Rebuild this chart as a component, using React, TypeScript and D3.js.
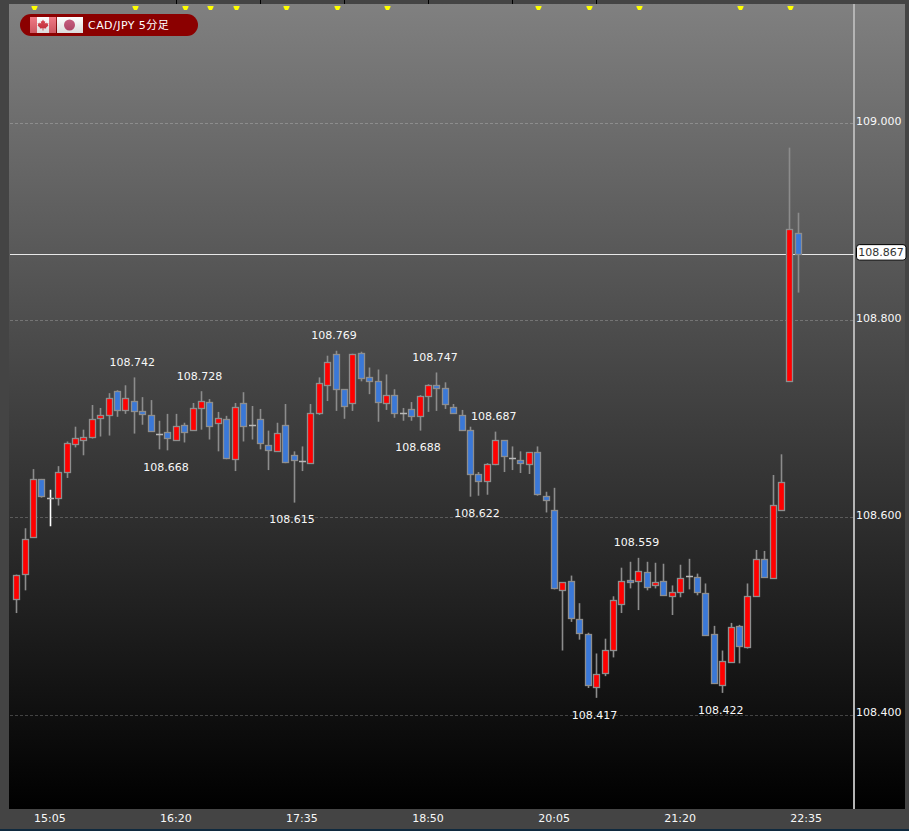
import * as d3 from 'd3';
import { useEffect, useRef } from 'react';

const pair = 'CAD/JPY 5分足';

// 5 minute candles, first one is 14:45
const opens = [
  108.517, 108.543, 108.58, 108.639, 108.62, 108.62, 108.646, 108.674, 108.678, 108.682,
  108.701, 108.704, 108.728, 108.709, 108.718, 108.708, 108.704, 108.685, 108.687, 108.679,
  108.694, 108.689, 108.711, 108.717, 108.696, 108.7, 108.659, 108.716, 108.694, 108.7,
  108.673, 108.667, 108.694, 108.663, 108.657, 108.655, 108.706, 108.734, 108.766, 108.73,
  108.716, 108.767, 108.742, 108.738, 108.716, 108.724, 108.706, 108.71, 108.703, 108.723,
  108.734, 108.731, 108.712, 108.704, 108.689, 108.644, 108.637, 108.654, 108.678, 108.66,
  108.658, 108.654, 108.666, 108.622, 108.608, 108.526, 108.535, 108.497, 108.482, 108.428,
  108.442, 108.466, 108.512, 108.537, 108.536, 108.545, 108.531, 108.535, 108.52, 108.524,
  108.541, 108.54, 108.523, 108.482, 108.43, 108.453, 108.49, 108.469, 108.52, 108.558,
  108.539, 108.607, 108.738, 108.888,
];
const highs = [
  108.542, 108.589, 108.649, 108.639, 108.628, 108.652, 108.677, 108.692, 108.689, 108.714,
  108.711, 108.726, 108.729, 108.734, 108.742, 108.722, 108.719, 108.698, 108.705, 108.705,
  108.696, 108.716, 108.728, 108.72, 108.707, 108.703, 108.716, 108.727, 108.713, 108.71,
  108.688, 108.696, 108.715, 108.667, 108.672, 108.715, 108.742, 108.764, 108.769, 108.73,
  108.766, 108.768, 108.752, 108.75, 108.745, 108.73, 108.711, 108.717, 108.724, 108.735,
  108.747, 108.737, 108.715, 108.709, 108.692, 108.646, 108.655, 108.687, 108.678, 108.672,
  108.667, 108.666, 108.672, 108.626, 108.63, 108.534, 108.541, 108.513, 108.483, 108.462,
  108.477, 108.52, 108.549, 108.555, 108.559, 108.555, 108.554, 108.553, 108.531, 108.552,
  108.558, 108.543, 108.533, 108.49, 108.465, 108.493, 108.491, 108.533, 108.567, 108.566,
  108.643, 108.664, 108.975, 108.909,
];
const lows = [
  108.503, 108.526, 108.58, 108.62, 108.591, 108.612, 108.64, 108.671, 108.663, 108.68,
  108.682, 108.683, 108.702, 108.705, 108.685, 108.694, 108.688, 108.669, 108.668, 108.678,
  108.676, 108.689, 108.689, 108.679, 108.667, 108.659, 108.647, 108.677, 108.679, 108.669,
  108.648, 108.667, 108.655, 108.615, 108.647, 108.655, 108.704, 108.718, 108.708, 108.7,
  108.708, 108.738, 108.725, 108.697, 108.709, 108.701, 108.698, 108.698, 108.688, 108.707,
  108.708, 108.71, 108.705, 108.689, 108.621, 108.622, 108.623, 108.653, 108.646, 108.648,
  108.645, 108.644, 108.622, 108.605, 108.527, 108.465, 108.494, 108.476, 108.427, 108.417,
  108.439, 108.458, 108.503, 108.528, 108.506, 108.526, 108.528, 108.521, 108.501, 108.519,
  108.527, 108.521, 108.481, 108.431, 108.422, 108.453, 108.452, 108.467, 108.52, 108.539,
  108.539, 108.607, 108.738, 108.828,
];
const closes = [
  108.542, 108.578, 108.639, 108.622, 108.62, 108.646, 108.675, 108.681, 108.682, 108.7,
  108.704, 108.721, 108.709, 108.721, 108.708, 108.705, 108.688, 108.685, 108.681, 108.693,
  108.687, 108.711, 108.718, 108.693, 108.701, 108.66, 108.712, 108.693, 108.694, 108.675,
  108.668, 108.686, 108.656, 108.658, 108.657, 108.706, 108.736, 108.758, 108.73, 108.713,
  108.766, 108.741, 108.738, 108.717, 108.724, 108.706, 108.706, 108.703, 108.723, 108.734,
  108.731, 108.715, 108.706, 108.689, 108.644, 108.637, 108.654, 108.678, 108.662, 108.66,
  108.655, 108.666, 108.624, 108.618, 108.528, 108.534, 108.498, 108.483, 108.43, 108.441,
  108.466, 108.516, 108.536, 108.535, 108.546, 108.529, 108.534, 108.521, 108.524, 108.539,
  108.541, 108.524, 108.481, 108.432, 108.454, 108.489, 108.47, 108.52, 108.558, 108.54,
  108.613, 108.636, 108.892, 108.867,
];

const priceTicks = [109, 108.8, 108.6, 108.4];
const lastPrice = 108.867;

const timeTickIndex = [4, 19, 34, 49, 64, 79, 94];
const timeLabels = ['15:05', '16:20', '17:35', '18:50', '20:05', '21:20', '22:35'];

const highLabelIndex = [14, 22, 38, 50, 57, 74];
const lowLabelIndex = [18, 33, 48, 55, 69, 84];

const signalIndex = [2, 14, 20, 23, 26, 32, 38, 44, 62, 68, 74, 86, 92];
const topTickIndex = [19, 29, 39, 49, 59, 69];
const whiteDoji = [4];

const width = 909;
const height = 831;
const plotLeft = 9;
const plotTop = 4;
const plotBottom = 809;
const plotRight = 905;
const axisX = 854;
const font = "'DejaVu Sans', 'Noto Sans CJK JP', sans-serif";
const leaf =
  'M0,-5.5 L1.1,-3.4 2.2,-4 1.8,-1.2 3.2,-2.6 3.7,-1.5 5.4,-1.8 4.8,0 5.5,.5 3,2.7 3.2,3.6 .4,3.3 .4,5.5 -.4,5.5 -.4,3.3 -3.2,3.6 -3,2.7 -5.5,.5 -4.8,0 -5.4,-1.8 -3.7,-1.5 -3.2,-2.6 -1.8,-1.2 -2.2,-4 -1.1,-3.4 Z';

function App() {
  const svgElement = useRef<SVGSVGElement | null>(null);

  useEffect(() => {
    const svg = d3.select(svgElement.current);
    svg.selectAll('*').remove();

    const x = d3.scaleLinear().domain([0, 93]).range([16.7, 798.3]);
    const y = d3.scaleLinear().domain([108.4, 109]).range([714.6, 123]);
    const px = (i: number) => Math.floor(x(i)) + 0.5;
    const py = (v: number) => Math.round(y(v)) + 0.5;

    const defs = svg.append('defs');
    const bg = defs
      .append('linearGradient')
      .attr('id', 'plotBg')
      .attr('x1', 0)
      .attr('y1', 0)
      .attr('x2', 0)
      .attr('y2', 1);
    bg.append('stop').attr('offset', '0%').attr('stop-color', '#808080');
    bg.append('stop').attr('offset', '100%').attr('stop-color', '#000000');
    const gloss = defs
      .append('linearGradient')
      .attr('id', 'gloss')
      .attr('x1', 0)
      .attr('y1', 0)
      .attr('x2', 0)
      .attr('y2', 1);
    gloss.append('stop').attr('offset', '0%').attr('stop-color', '#ffffff').attr('stop-opacity', 0.15);
    gloss.append('stop').attr('offset', '100%').attr('stop-color', '#000000').attr('stop-opacity', 0.14);

    // Frame and plot
    svg.append('rect').attr('width', width).attr('height', height).attr('fill', '#444444');
    svg
      .append('rect')
      .attr('y', height - 2)
      .attr('width', width)
      .attr('height', 2)
      .attr('fill', '#0f2a3f');
    svg
      .append('rect')
      .attr('x', plotLeft)
      .attr('y', plotTop)
      .attr('width', plotRight - plotLeft)
      .attr('height', plotBottom - plotTop)
      .attr('fill', 'url(#plotBg)');

    // Top ticks and signals
    svg
      .selectAll('.top-tick')
      .data(topTickIndex)
      .join('line')
      .attr('class', 'top-tick')
      .attr('x1', (d) => px(d))
      .attr('x2', (d) => px(d))
      .attr('y1', 0)
      .attr('y2', plotTop)
      .attr('stroke', '#000');
    svg
      .selectAll('.signal')
      .data(signalIndex)
      .join('path')
      .attr('class', 'signal')
      .attr('d', 'M-3,0 H3 V1 L1.5,4 H-1.5 L-3,1 Z')
      .attr('transform', (d) => `translate(${px(d) + 1}, 6)`)
      .attr('fill', '#ffff00');

    // Grid
    svg
      .selectAll('.grid')
      .data(priceTicks)
      .join('line')
      .attr('class', 'grid')
      .attr('x1', plotLeft + 1)
      .attr('x2', axisX)
      .attr('y1', (d) => py(d))
      .attr('y2', (d) => py(d))
      .attr('stroke', '#ffffff')
      .attr('stroke-opacity', 0.22)
      .attr('stroke-dasharray', '3,2');

    // Price axis line and last price line
    svg
      .append('line')
      .attr('x1', axisX)
      .attr('x2', axisX)
      .attr('y1', plotTop)
      .attr('y2', plotBottom)
      .attr('stroke', '#b4b4b4')
      .attr('stroke-width', 2);
    svg
      .append('line')
      .attr('x1', plotLeft + 1)
      .attr('x2', axisX)
      .attr('y1', py(lastPrice))
      .attr('y2', py(lastPrice))
      .attr('stroke', '#e8e8e8');

    // Candles
    const candles = d3.range(opens.length);
    const chart = svg.append('g');
    chart
      .selectAll('.wick')
      .data(candles)
      .join('line')
      .attr('class', 'wick')
      .attr('x1', (i) => px(i))
      .attr('x2', (i) => px(i))
      .attr('y1', (i) => y(highs[i]))
      .attr('y2', (i) => y(lows[i]))
      .attr('stroke', (i) => (whiteDoji.includes(i) ? '#ffffff' : '#8c8c8c'))
      .attr('stroke-width', 1.6);
    chart
      .selectAll('.body')
      .data(candles.filter((i) => opens[i] !== closes[i]))
      .join('rect')
      .attr('class', 'body')
      .attr('x', (i) => px(i) - 3)
      .attr('y', (i) => py(Math.max(opens[i], closes[i])))
      .attr('width', 6)
      .attr('height', (i) => Math.max(2, py(Math.min(opens[i], closes[i])) - py(Math.max(opens[i], closes[i]))))
      .attr('fill', (i) => (closes[i] > opens[i] ? '#ff0000' : '#3a78d8'))
      .attr('stroke', '#8e8e8e')
      .attr('stroke-width', 1.3);
    chart
      .selectAll('.doji')
      .data(candles.filter((i) => opens[i] === closes[i]))
      .join('line')
      .attr('class', 'doji')
      .attr('x1', (i) => px(i) - 3.5)
      .attr('x2', (i) => px(i) + 3.5)
      .attr('y1', (i) => py(closes[i]))
      .attr('y2', (i) => py(closes[i]))
      .attr('stroke', '#b8b8b8')
      .attr('stroke-width', 1.5);

    // High / low labels
    const fmt = d3.format('.3f');
    const note = svg
      .append('g')
      .attr('font-family', font)
      .attr('font-size', 11)
      .attr('fill', '#f8f8f8')
      .attr('text-anchor', 'middle');
    note
      .selectAll('.high-label')
      .data(highLabelIndex)
      .join('text')
      .attr('class', 'high-label')
      .attr('x', (i) => x(i) - 2)
      .attr('y', (i) => y(highs[i]) - 15.5)
      .attr('dy', '.35em')
      .text((i) => fmt(highs[i]));
    note
      .selectAll('.low-label')
      .data(lowLabelIndex)
      .join('text')
      .attr('class', 'low-label')
      .attr('x', (i) => x(i) - 2)
      .attr('y', (i) => y(lows[i]) + 17)
      .attr('dy', '.35em')
      .text((i) => fmt(lows[i]));

    // Axes
    const yAxis = svg
      .append('g')
      .attr('transform', `translate(${axisX - 1}, -2.5)`)
      .call(d3.axisRight(y).tickValues(priceTicks).tickSize(0).tickPadding(3).tickFormat((d) => fmt(+d)));
    const xAxis = svg
      .append('g')
      .attr('transform', `translate(-1, ${plotBottom + 2})`)
      .call(
        d3
          .axisBottom(x)
          .tickValues(timeTickIndex)
          .tickSize(0)
          .tickPadding(3)
          .tickFormat((_, i) => timeLabels[i]),
      );
    [yAxis, xAxis].forEach((axis) => {
      axis.select('.domain').remove();
      axis.selectAll('text').attr('fill', '#f8f8f8').style('font-family', font).style('font-size', '11px');
    });

    // Last price tag
    svg
      .append('rect')
      .attr('x', 856.5)
      .attr('y', y(lastPrice) - 9.5)
      .attr('width', 49.5)
      .attr('height', 15.5)
      .attr('rx', 3)
      .attr('fill', '#ffffff')
      .attr('stroke', '#000000');
    svg
      .append('text')
      .attr('x', 881)
      .attr('y', y(lastPrice) - 1.5)
      .attr('dy', '.35em')
      .attr('text-anchor', 'middle')
      .attr('font-family', font)
      .attr('font-size', 11)
      .attr('fill', '#333333')
      .text(fmt(lastPrice));

    // Pair badge
    const badge = svg.append('g');
    badge
      .append('rect')
      .attr('x', 20)
      .attr('y', 14)
      .attr('width', 178)
      .attr('height', 22)
      .attr('rx', 11)
      .attr('fill', '#8b0000');
    badge.append('rect').attr('x', 30).attr('y', 17).attr('width', 26).attr('height', 16).attr('fill', '#ffffff');
    badge.append('rect').attr('x', 30).attr('y', 17).attr('width', 7).attr('height', 16).attr('fill', '#ee6470');
    badge.append('rect').attr('x', 49).attr('y', 17).attr('width', 7).attr('height', 16).attr('fill', '#ee6470');
    badge.append('path').attr('d', leaf).attr('transform', 'translate(43, 25)').attr('fill', '#d9303c');
    badge.append('rect').attr('x', 57).attr('y', 17).attr('width', 26).attr('height', 16).attr('fill', '#ffffff');
    badge.append('circle').attr('cx', 69.5).attr('cy', 25).attr('r', 5.5).attr('fill', '#c44a70');
    badge.append('rect').attr('x', 30).attr('y', 17).attr('width', 53).attr('height', 16).attr('fill', 'url(#gloss)');
    badge
      .append('text')
      .attr('x', 88)
      .attr('y', 25)
      .attr('dy', '.35em')
      .attr('font-family', font)
      .attr('font-size', 11)
      .attr('letter-spacing', 0.45)
      .attr('fill', '#ffffff')
      .text(pair);
  }, []);

  return (
    <svg
      ref={svgElement}
      width={width}
      height={height}
      style={{ position: 'absolute', left: 0, top: 0, display: 'block' }}
    />
  );
}

export default App;
